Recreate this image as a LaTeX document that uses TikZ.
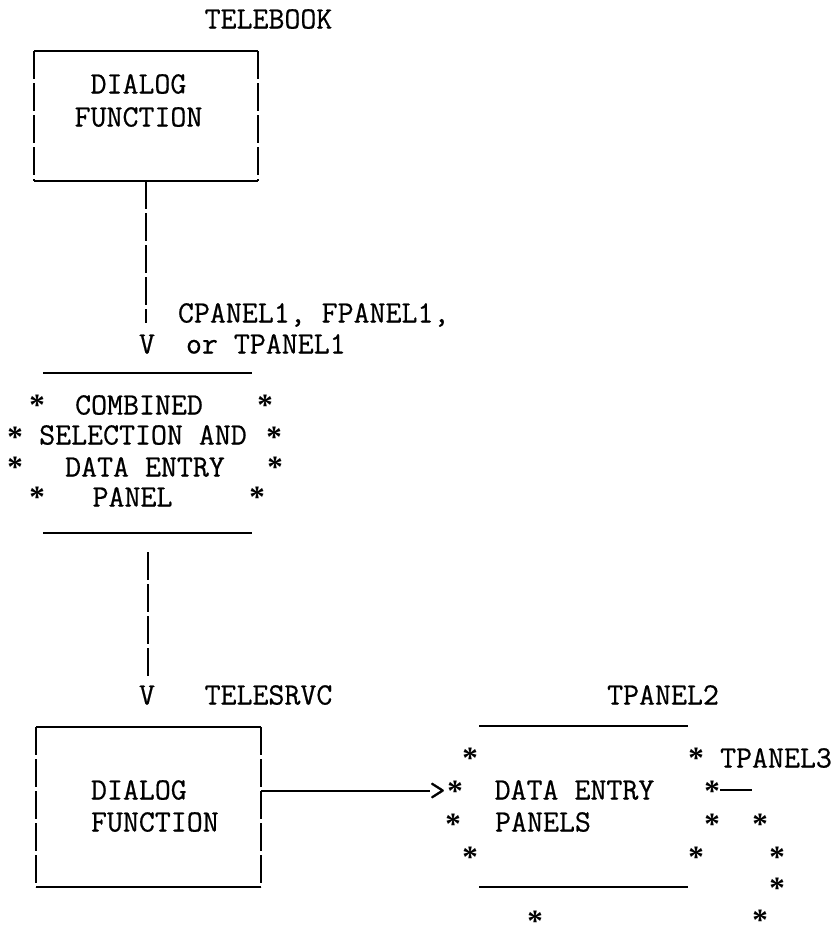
\documentclass[tikz,border=0pt]{standalone}
\usepackage{fontspec}
\newfontfamily\typew[FakeBold=0.6]{Latin Modern Mono}
\newfontfamily\astfont{Liberation Serif}
\usetikzlibrary{calc}
\begin{document}
\begin{tikzpicture}[x=1pt,y=-1pt,
  txt/.style={font=\typew\fontsize{31}{37}\selectfont, inner sep=0pt, outer sep=0pt, anchor=base},
  txtw/.style={txt, anchor=base west},
  ast/.style={font=\astfont\bfseries\fontsize{31}{37}\selectfont, inner sep=0pt, outer sep=0pt, anchor=base, yshift=-15pt},
  solidline/.style={line width=2pt},
  sideline/.style={line width=2pt, dash pattern=on 28pt off 4pt},
  frame/.style={inner sep=0pt, outer sep=0pt, draw=none, rectangle}
]
\useasboundingbox (0,0) rectangle (833,948);

% ---------- top dialog function box ----------
\node[txt] (telebook) at (268.5,28.5) {TELEBOOK};
\node[frame, minimum width=224pt, minimum height=130pt] (b1) at (146,116) {};
\draw[solidline] (b1.north west) -- (b1.north east);
\draw[solidline] (b1.south west) -- (b1.south east);
\draw[sideline] (b1.north west) -- (b1.south west);
\draw[sideline] (b1.north east) -- (b1.south east);
\node[txt] (b1a) at (138.5,93.5) {DIALOG};
\node[txt] (b1b) at (138.5,126.5) {FUNCTION};

% ---------- first connector ----------
\node[txtw] (lab1) at (178,322.5) {CPANEL1, FPANEL1,};
\node[txt] (v1) at (147,353.5) {V};
\node[txtw] (lab2) at (186,353.5) {or TPANEL1};
\draw[sideline, shorten >=12pt] (b1.south) -- (b1.south |- v1.north);

% ---------- combined panel ----------
\node[frame, minimum width=209pt, minimum height=160pt] (cp) at (147.5,453) {};
\draw[solidline] (cp.north west) -- (cp.north east);
\draw[solidline] (cp.south west) -- (cp.south east);
\node[txt] (cpa) at (139,414.5) {COMBINED};
\node[txt] (cpb) at (143,444.5) {SELECTION AND};
\node[txt] (cpc) at (145,476.5) {DATA ENTRY};
\node[txt] (cpd) at (132.5,506.5) {PANEL};
\node[ast] (s1) at (37,400) {*};
\node[ast] (s2) at (265,400) {*};
\node[ast] (s3) at (15,432) {*};
\node[ast] (s4) at (274,432) {*};
\node[ast] (s5) at (15,462) {*};
\node[ast] (s6) at (275,462) {*};
\node[ast] (s7) at (37,492) {*};
\node[ast] (s8) at (257,492) {*};

% ---------- second connector ----------
\node[txt] (v2) at (147,704.5) {V};
\node[txt] (telesrvc) at (268.5,704.5) {TELESRVC};
\draw[sideline, shorten <=19pt, shorten >=8pt] (cp.south) -- (cp.south |- v2.north);

% ---------- bottom dialog function box ----------
\node[frame, minimum width=225pt, minimum height=160pt] (b2) at (148.5,807) {};
\draw[solidline] (b2.north west) -- (b2.north east);
\draw[solidline] (b2.south west) -- (b2.south east);
\draw[sideline] (b2.north west) -- (b2.south west);
\draw[sideline] (b2.north east) -- (b2.south east);
\node[txtw] (b2a) at (91,799.5) {DIALOG};
\node[txtw] (b2b) at (91,831.5) {FUNCTION};

% ---------- arrow to data entry panels ----------
\node[txt] (gt) at (437.5,800) {>};
\draw[solidline] (b2.east |- gt.west) -- (gt.west);

% ---------- data entry panels ----------
\node[txt] (tpanel2) at (663,704.5) {TPANEL2};
\node[frame, minimum width=209pt, minimum height=161pt] (dep) at (583.5,806.5) {};
\draw[solidline] (dep.north west) -- (dep.north east);
\draw[solidline] (dep.south west) -- (dep.south east);
\node[txt] (depa) at (574.5,799.5) {DATA ENTRY};
\node[txt] (depb) at (543,831.5) {PANELS};
\node[txt] (tpanel3) at (776,767.5) {TPANEL3};

\node[ast] (d1) at (470,753) {*};
\node[ast] (d2) at (696,753) {*};
\node[ast] (d3) at (455,786) {*};
\node[ast] (d4) at (712,786) {*};
\node[ast] (d5) at (453,819) {*};
\node[ast] (d6) at (712,819) {*};
\node[ast] (d7) at (760,819) {*};
\node[ast] (d8) at (470,852) {*};
\node[ast] (d9) at (696,852) {*};
\node[ast] (d10) at (777,852) {*};
\node[ast] (d11) at (777,883) {*};
\node[ast] (d12) at (535,916) {*};
\node[ast] (d13) at (760,915) {*};

\coordinate (t3end) at (752,790);
\draw[solidline] (d4.east |- t3end) -- (t3end);
\end{tikzpicture}
\end{document}
